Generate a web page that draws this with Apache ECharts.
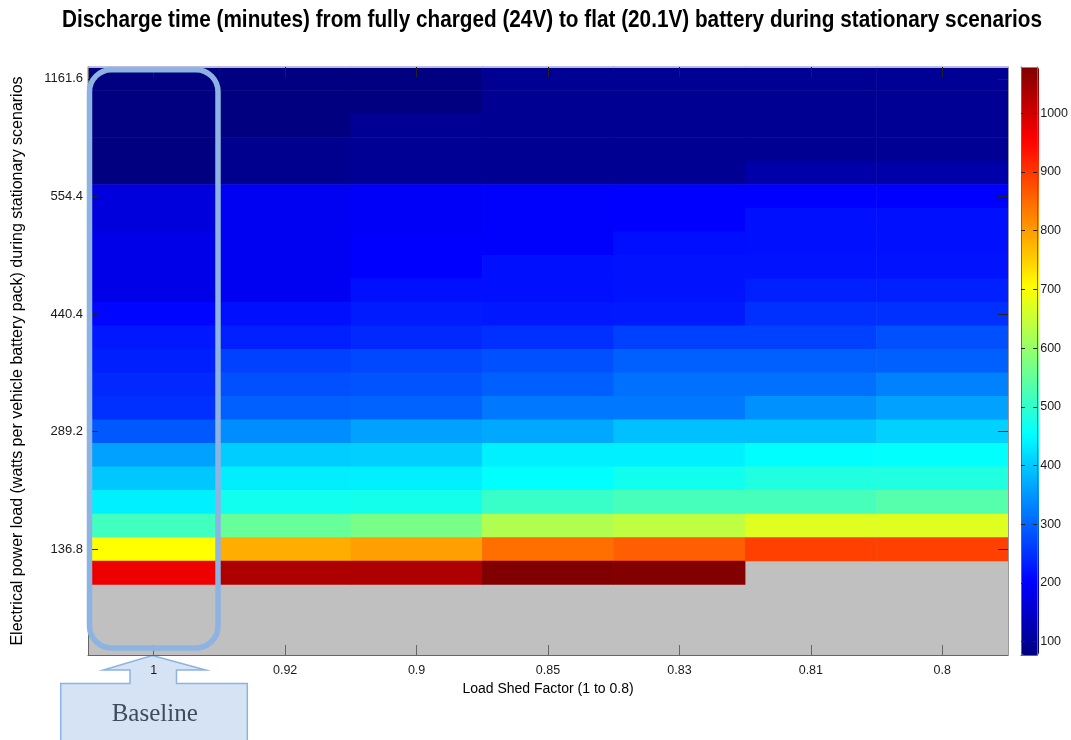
<!DOCTYPE html>
<html>
<head>
<meta charset="utf-8">
<script src="https://cdn.jsdelivr.net/npm/echarts@6/dist/echarts.min.js"></script>
<style>
  html, body { margin: 0; padding: 0; background: #ffffff; }
  #chart { width: 1071px; height: 740px; }
</style>
</head>
<body>
<div id="chart"></div>
<script>
// Load shed factor for each column (left to right)
const shedFactors = ['1', '0.92', '0.9', '0.85', '0.83', '0.81', '0.8'];

// Power load rows, top to bottom; every fifth row carries a tick label
const loadTickLabels = [
  '1161.6', '', '', '', '',
  '554.4', '', '', '', '',
  '440.4', '', '', '', '',
  '289.2', '', '', '', '',
  '136.8', '', '', '', ''
];

// Discharge time in minutes, one list per load shed factor, rows top to bottom (null = no result)
const minutesShed100 = [77, 77, 77, 77, 77, 168, 168, 180, 180, 180, 207, 225, 233, 241, 249, 288, 360, 399, 438, 516, 703, 971, null, null, null];
const minutesShed092 = [78, 78, 78, 92, 92, 189, 189, 189, 189, 189, 218, 233, 265, 281, 296, 340, 403, 436, 469, 553, 783, 1033, null, null, null];
const minutesShed090 = [78, 78, 97, 97, 97, 195, 195, 202, 202, 218, 229, 241, 273, 283, 298, 360, 405, 438, 471, 570, 797, 1035, null, null, null];
const minutesShed085 = [95, 95, 95, 95, 95, 200, 200, 200, 218, 218, 225, 249, 281, 296, 320, 368, 438, 453, 508, 625, 845, 1079, null, null, null];
const minutesShed083 = [95, 95, 95, 95, 95, 202, 202, 216, 220, 220, 227, 265, 296, 312, 320, 391, 438, 469, 521, 640, 861, 1076, null, null, null];
const minutesShed081 = [95, 95, 95, 95, 117, 202, 218, 218, 220, 233, 249, 265, 296, 312, 344, 391, 452, 484, 521, 672, 891, null, null, null, null];
const minutesShed080 = [97, 97, 97, 97, 117, 202, 218, 218, 220, 233, 249, 281, 296, 329, 360, 407, 454, 484, 536, 672, 891, null, null, null, null];

// Colour bar tick values
const colorbarTicks = [100, 200, 300, 400, 500, 600, 700, 800, 900, 1000];

// Jet colour map stops (evenly spaced)
const jetColors = ['#000080', '#0000ff', '#0080ff', '#00ffff', '#80ff80', '#ffff00', '#ff8000', '#ff0000', '#800000'];

const titleText = 'Discharge time (minutes) from fully charged (24V) to flat (20.1V) battery during stationary scenarios';

const columns = [minutesShed100, minutesShed092, minutesShed090, minutesShed085, minutesShed083, minutesShed081, minutesShed080];
const cells = [];
columns.forEach((col, x) => {
  col.forEach((v, y) => { if (v !== null) cells.push([x, y, v]); });
});
const allValues = cells.map(c => c[2]);
const cMin = Math.min.apply(null, allValues);
const cMax = Math.max.apply(null, allValues);

const sans = "'Liberation Sans', Arial, Helvetica, sans-serif";
const plot = { left: 88, top: 67, width: 920, height: 588 };
const bar = { left: 1021, top: 67, width: 18, height: 588 };

// Title is drawn in a tall, condensed Helvetica-like face: measure and squeeze horizontally
const titleFont = "bold 23.5px 'Liberation Sans', Arial, sans-serif";
const titleWidth = 980;
const measureCtx = document.createElement('canvas').getContext('2d');
measureCtx.font = titleFont;
const titleScaleX = titleWidth / measureCtx.measureText(titleText).width;

const chart = echarts.init(document.getElementById('chart'), null, { renderer: 'canvas' });

chart.setOption({
  animation: false,
  backgroundColor: '#ffffff',
  grid: [
    Object.assign({ show: true, backgroundColor: '#c0c0c0', borderWidth: 0, containLabel: false }, plot),
    Object.assign({ show: false, containLabel: false }, bar)
  ],
  xAxis: [
    {
      type: 'category', gridIndex: 0, position: 'bottom', data: shedFactors, z: 3,
      name: 'Load Shed Factor (1 to 0.8)', nameLocation: 'middle', nameGap: 21.5,
      nameTextStyle: { fontFamily: sans, fontSize: 14, color: '#000000' },
      axisLine: { show: true, lineStyle: { color: '#666666', width: 1 } },
      axisTick: { show: true, inside: true, length: 10, alignWithLabel: true, lineStyle: { color: '#666666' } },
      axisLabel: { fontFamily: sans, fontSize: 12.5, color: '#1a1a1a', margin: 9 },
      splitLine: { show: false }
    },
    {
      type: 'category', gridIndex: 0, position: 'top', data: shedFactors, z: 3,
      axisLine: { show: true, lineStyle: { color: '#bbbbbb', width: 1 } },
      axisTick: { show: true, inside: true, length: 10, alignWithLabel: true, lineStyle: { color: '#222222' } },
      axisLabel: { show: false },
      splitLine: { show: false }
    },
    {
      type: 'category', gridIndex: 1, position: 'bottom', data: [''], z: 10,
      axisLine: { show: true, lineStyle: { color: '#666666', width: 1 } },
      axisTick: { show: false }, axisLabel: { show: false }, splitLine: { show: false }
    },
    {
      type: 'category', gridIndex: 1, position: 'top', data: [''], z: 10,
      axisLine: { show: true, lineStyle: { color: '#888888', width: 1 } },
      axisTick: { show: false }, axisLabel: { show: false }, splitLine: { show: false }
    }
  ],
  yAxis: [
    {
      type: 'category', gridIndex: 0, position: 'left', data: loadTickLabels, inverse: true, z: 3,
      name: 'Electrical power load (watts per vehicle battery pack) during stationary scenarios',
      nameLocation: 'middle', nameGap: 62,
      nameTextStyle: { fontFamily: sans, fontSize: 16, color: '#000000' },
      axisLine: { show: true, lineStyle: { color: '#666666', width: 1 } },
      axisTick: {
        show: true, inside: true, length: 10, alignWithLabel: true,
        interval: (index) => index % 5 === 0,
        lineStyle: { color: '#222222' }
      },
      axisLabel: { interval: 0, fontFamily: sans, fontSize: 13, color: '#1a1a1a', margin: 5 },
      splitLine: { show: false }
    },
    {
      type: 'category', gridIndex: 0, position: 'right', data: loadTickLabels, inverse: true, z: 3,
      axisLine: { show: true, lineStyle: { color: '#999999', width: 1 } },
      axisTick: {
        show: true, inside: true, length: 10, alignWithLabel: true,
        interval: (index) => index % 5 === 0,
        lineStyle: { color: '#222222' }
      },
      axisLabel: { show: false },
      splitLine: { show: false }
    },
    {
      type: 'value', gridIndex: 1, position: 'right', min: cMin, max: cMax, z: 10,
      axisLine: { show: true, lineStyle: { color: '#666666', width: 1 } },
      axisTick: { show: true, inside: true, length: 4, customValues: colorbarTicks, lineStyle: { color: '#222222' } },
      axisLabel: {
        show: true, customValues: colorbarTicks, formatter: (v) => String(v),
        fontFamily: sans, fontSize: 12.5, color: '#1a1a1a', margin: 3
      },
      splitLine: { show: false }
    },
    {
      type: 'value', gridIndex: 1, position: 'left', min: cMin, max: cMax, z: 10,
      axisLine: { show: true, lineStyle: { color: '#666666', width: 1 } },
      axisTick: { show: true, inside: true, length: 4, customValues: colorbarTicks, lineStyle: { color: '#222222' } },
      axisLabel: { show: false },
      splitLine: { show: false }
    }
  ],
  visualMap: {
    type: 'continuous',
    seriesIndex: 0,
    min: cMin,
    max: cMax,
    orient: 'vertical',
    left: bar.left,
    top: bar.top,
    itemWidth: bar.width,
    itemHeight: bar.height,
    padding: 0,
    calculable: false,
    hoverLink: false,
    inRange: { color: jetColors }
  },
  series: [{
    type: 'heatmap',
    xAxisIndex: 0,
    yAxisIndex: 0,
    data: cells,
    itemStyle: { borderWidth: 0 },
    emphasis: { disabled: true }
  }],
  graphic: [
    {
      // Chart title, centred over the plot
      type: 'text', z: 5, silent: true,
      x: 552, y: 20.5,
      scaleX: titleScaleX,
      style: {
        text: titleText,
        fill: '#000000',
        font: titleFont,
        textAlign: 'center',
        textVerticalAlign: 'middle'
      }
    },
    {
      // Baseline column highlight
      type: 'rect', z: 100, silent: true,
      shape: { x: 89.5, y: 69.7, width: 128.5, height: 578.3, r: 22 },
      style: { fill: 'none', stroke: '#8db3e2', lineWidth: 5.5 }
    },
    {
      // Up-arrow callout box
      type: 'polygon', z: 1, silent: true,
      shape: {
        points: [
          [152.3, 655.5], [205.7, 670], [176.5, 670], [176.5, 683.5], [247.3, 683.5],
          [247.3, 760], [60.7, 760], [60.7, 683.5], [130, 683.5], [130, 670], [103.3, 670]
        ]
      },
      style: { fill: '#d6e3f4', stroke: '#8db3e2', lineWidth: 1.5 }
    },
    {
      type: 'text', z: 2, silent: true,
      x: 154.7, y: 714,
      style: {
        text: 'Baseline',
        fill: '#3f4b5c',
        font: "25px 'Liberation Serif', 'Times New Roman', serif",
        textAlign: 'center',
        textVerticalAlign: 'middle'
      }
    }
  ]
});
</script>
</body>
</html>
